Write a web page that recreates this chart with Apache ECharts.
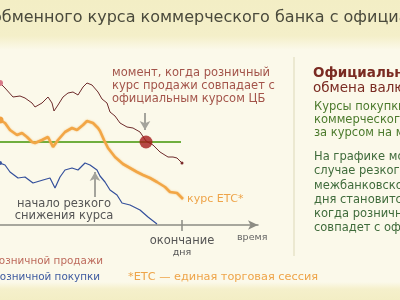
<!DOCTYPE html>
<html><head><meta charset="utf-8">
<script src="https://cdn.jsdelivr.net/npm/echarts@6/dist/echarts.min.js"></script>
<style>html,body{margin:0;padding:0;background:#fbf9ea;}#c{width:400px;height:300px;}</style>
</head><body><div id="c"></div>
<script>
// ---- data (time units along the day, rate units) ----
const sellTime = [0,5,13,20,25,32,35,42,48,52,54,58,63,68,73,78,83,87,92,98,102,107,110,115,120,127,133,140,146,153,160,168,173,177,182];
const sellRate = [142,137,128,129,127,122,118,122,128,122,114,120,128,132,133,130,138,142,140,133,126,122,113,109,102,98,97,93,84,80,73,68,68,67,62];
const etcTime = [0,5,10,17,22,27,32,35,42,48,53,58,65,72,77,83,87,93,98,100,104,108,115,123,130,137,143,150,157,165,170,177,183];
const etcRate = [105,102,95,90,92,88,83,82,85,88,78,85,93,97,95,100,104,102,97,94,85,77,68,61,57,53,50,47,43,38,33,32,26];
const buyTime = [0,5,10,18,25,33,43,50,55,60,65,72,78,85,90,97,100,105,110,117,122,130,140,148,157];
const buyRate = [62,60,53,47,48,42,45,47,37,48,55,57,55,62,60,55,49,43,35,30,22,20,15,8,1];
const officialRate = 83;
const officialSpan = [0, 181];
const crossTime = 146;
const endOfDay = 182;
const axisLabels = ['окончание', 'дня', 'время'];

const FONT = '"DejaVu Sans", sans-serif';
const zip = (a, b) => a.map((v, i) => [v, b[i]]);
function withEnds(pts, startColor, startSize, endSize, endColor) {
  return pts.map((p, i) => {
    if (i === 0) return { value: p, symbol: 'circle', symbolSize: startSize, itemStyle: { color: startColor } };
    if (i === pts.length - 1 && endSize) return { value: p, symbol: 'circle', symbolSize: endSize, itemStyle: { color: endColor } };
    return { value: p };
  });
}
function txt(text, x, y, size, color, opts) {
  opts = opts || {};
  return { type: 'text', z: 100, silent: true, style: {
    text: text, x: x, y: y, fill: color,
    font: (opts.bold ? 'bold ' : '') + size + 'px ' + FONT,
    textAlign: opts.align || 'left', textVerticalAlign: 'middle' } };
}

const chart = echarts.init(document.getElementById('c'), null, { renderer: 'canvas' });
const option = {
  animation: false,
  backgroundColor: '#fbf9ea',
  grid: { left: 0, top: 40, width: 258, height: 185, containLabel: false },
  xAxis: [{
    type: 'value', min: 0, max: 258,
    axisLine: { show: true, lineStyle: { color: '#8c8c84', width: 1.5 }, symbol: ['none', 'arrow'], symbolSize: [7, 10] },
    axisTick: { show: true, customValues: [endOfDay], length: 6, lineStyle: { color: '#8c8c84', width: 1.5 } },
    axisLabel: { show: true, customValues: [endOfDay], margin: 10,
      formatter: () => '{a|' + axisLabels[0] + '}\n{b|' + axisLabels[1] + '}',
      rich: { a: { fontFamily: FONT, fontSize: 11.5, color: '#555', lineHeight: 12 },
              b: { fontFamily: FONT, fontSize: 9.5, color: '#555', lineHeight: 11 } } },
    splitLine: { show: false }
  }, {
    type: 'value', min: 0, max: 258, position: 'bottom',
    axisLine: { show: false },
    axisTick: { show: true, inside: true, customValues: [endOfDay], length: 5, lineStyle: { color: '#8c8c84', width: 1.5 } },
    axisLabel: { show: false }, splitLine: { show: false }
  }],
  yAxis: { type: 'value', min: 0, max: 185, show: false },
  series: [
    { type: 'line', name: 'official', data: [[officialSpan[0], officialRate], [officialSpan[1], officialRate]],
      symbol: 'none', lineStyle: { color: '#6fae3e', width: 2 }, z: 3,
      markLine: { silent: true, symbol: ['none', 'arrow'], symbolSize: [8, 9], label: { show: false },
        lineStyle: { color: '#a4a49c', width: 2, type: 'solid' },
        data: [
          [{ coord: [crossTime - 1, 112] }, { coord: [crossTime - 1, 95] }],
          [{ coord: [95, 28] }, { coord: [95, 53] }]
        ] } },
    { type: 'line', name: 'ETC', data: withEnds(zip(etcTime, etcRate), '#f0a040', 7, 0), symbol: 'none',
      lineStyle: { color: '#f2a646', width: 2.6, shadowBlur: 2, shadowColor: 'rgba(240,170,70,0.6)' }, z: 4 },
    { type: 'line', name: 'sell', data: withEnds(zip(sellTime, sellRate), '#d77a88', 6, 3, '#7a2a2a'), symbol: 'none',
      lineStyle: { color: '#6e2c2c', width: 1 }, z: 5 },
    { type: 'line', name: 'buy', data: withEnds(zip(buyTime, buyRate), '#3a56a0', 4, 0), symbol: 'none',
      lineStyle: { color: '#34509c', width: 1.2 }, z: 5 },
    { type: 'scatter', name: 'cross', data: [[crossTime, officialRate]], symbolSize: 13,
      itemStyle: { color: '#a51d1d' }, z: 6 }
  ],
  graphic: [
    { type: 'rect', z: -10, silent: true, shape: { x: 0, y: 0, width: 400, height: 50 },
      style: { fill: new echarts.graphic.LinearGradient(0, 0, 0, 1, [
        { offset: 0, color: '#f3eec5' }, { offset: 0.72, color: '#f4efc9' }, { offset: 1, color: '#fbf9ea' }]) } },
    { type: 'rect', z: -10, silent: true, shape: { x: 0, y: 282, width: 400, height: 18 },
      style: { fill: new echarts.graphic.LinearGradient(0, 0, 0, 1, [
        { offset: 0, color: '#fbf9ea' }, { offset: 0.4, color: '#f5f0cb' }, { offset: 1, color: '#f3eec5' }]) } },
    { type: 'line', z: -5, silent: true, shape: { x1: 294, y1: 57, x2: 294, y2: 256 }, style: { stroke: '#e7e3c9', lineWidth: 1.5 } },
    txt('обменного курса коммерческого банка с официальным', -8, 18, 16, '#4a4a3c'),
    txt('момент, когда розничный', 112, 73, 11.5, '#a3544a'),
    txt('курс продажи совпадает с', 112, 86, 11.5, '#a3544a'),
    txt('официальным курсом ЦБ', 112, 99, 11.5, '#a3544a'),
    txt('начало резкого', 64, 204, 11.5, '#555', { align: 'center' }),
    txt('снижения курса', 64, 216, 11.5, '#555', { align: 'center' }),
    txt('курс ЕТС*', 187, 199, 11, '#eea449'),
    txt(axisLabels[2], 237, 238, 9.5, '#666'),
    txt('курс розничной продажи', 103, 261, 10.4, '#bd6a5c', { align: 'right' }),
    txt('курс розничной покупки', 100, 277, 10.4, '#3d5aa0', { align: 'right' }),
    txt('*ЕТС — единая торговая сессия', 128, 277, 11.3, '#eea449'),
    txt('Официальный курс', 313, 73, 13.5, '#7a2b22', { bold: true }),
    txt('обмена валюты', 313, 88, 13.5, '#7a2b22'),
    txt('Курсы покупки и продажи', 314, 107, 11.5, '#4b7a2c'),
    txt('коммерческого банка', 314, 120, 11.5, '#4b7a2c'),
    txt('за курсом на межбанковском', 314, 133, 11.5, '#4b7a2c'),
    txt('На графике можно видеть, что в', 314, 157, 11.5, '#3f6b3b'),
    txt('случае резкого снижения', 314, 171, 11.5, '#3f6b3b'),
    txt('межбанковского курса', 314, 186, 11.5, '#3f6b3b'),
    txt('дня становится возможной', 314, 200, 11.5, '#3f6b3b'),
    txt('когда розничный курс', 314, 214, 11.5, '#3f6b3b'),
    txt('совпадет с официальным', 314, 228, 11.5, '#3f6b3b')
  ]
};
chart.setOption(option);
</script>
</body></html>
